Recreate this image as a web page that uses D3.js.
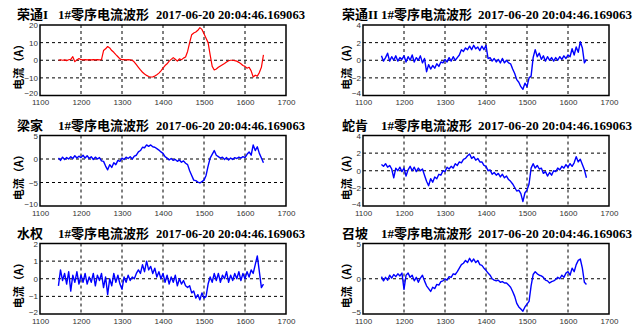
<!DOCTYPE html>
<html>
<head>
<meta charset="utf-8">
<script src="https://cdn.jsdelivr.net/npm/d3@7"></script>
<style>
  body { margin: 0; background: #fff; }
  .tick text { font-family: "Liberation Sans", Arial, sans-serif; font-size: 8px; fill: #333; }
</style>
</head>
<body>
<div id="chart"></div>
<script>
// sample positions shared by all six waveforms
const samples = [
    1145, 1150, 1155, 1160, 1165, 1170, 1175, 1180, 1185, 1190,
    1195, 1200, 1205, 1210, 1215, 1220, 1225, 1230, 1235, 1240,
    1245, 1250, 1255, 1260, 1265, 1270, 1275, 1280, 1285, 1290,
    1295, 1300, 1305, 1310, 1315, 1320, 1325, 1330, 1335, 1340,
    1345, 1350, 1355, 1360, 1365, 1370, 1375, 1380, 1385, 1390,
    1395, 1400, 1405, 1410, 1415, 1420, 1425, 1430, 1435, 1440,
    1445, 1450, 1455, 1460, 1465, 1470, 1475, 1480, 1485, 1490,
    1495, 1500, 1505, 1510, 1515, 1520, 1525, 1530, 1535, 1540,
    1545, 1550, 1555, 1560, 1565, 1570, 1575, 1580, 1585, 1590,
    1595, 1600, 1605, 1610, 1615, 1620, 1625, 1630, 1635, 1640,
    1645
];

const rongtong1 = [
    0, 0.3, 0, 0.2, -0.2, 0.3, 0.5, 2.0, -0.8, 0.2,
    1.0, 0.3, 0.2, 0.3, 0.2, 0.3, 0.2, 0.3, 0.2, 0.3,
    0.2, 0.3, 5.5, 6.5, 7.8, 7.0, 5.5, 4.5, 3.2, 2.0,
    0.8, 0.3, 0.3, 0.2, 0.3, 0.2, 0.0, -1.0, -2.5, -4.0,
    -5.5, -6.8, -7.8, -8.6, -9.2, -9.5, -9.4, -9.0, -8.2, -7.3,
    -6.0, -4.5, -3.0, -2.0, -0.5, 0.5, 1.5, 0.6, -0.5, 0.8,
    0.3, 1.2, 1.8, 5.0, 10.0, 14.5, 15.5, 16.0, 17.0, 18.5,
    17.5, 15.0, 12.5, 10.0, 3.0, -3.5, -5.5, -5.0, -4.0, -3.2,
    -2.5, -1.8, -1.0, -0.3, 0.0, 0.0, -0.2, -0.5, -1.2, -2.0,
    -3.0, -3.5, -4.5, -4.0, -6.0, -9.5, -8.5, -9.0, -7.0, -4.0,
    3.0
];

const rongtong2 = [
    0.5, -0.1, 0.3, 0.8, -0.1, 0.4, 0.0, 0.5, -0.1, 0.3,
    0.1, 0.5, -0.2, 0.4, 0.0, 0.6, -0.2, 0.3, 0.0, 0.5,
    -0.3, 0.2, -1.3, -0.5, -1.0, -0.6, -0.9, -0.4, -0.7, -0.2,
    -0.3, 0.1, -0.2, 0.3, -0.1, 0.4, 0.0, 0.3, 0.6, 1.2,
    1.0, 1.4, 1.2, 1.6, 1.2, 1.7, 1.3, 1.5, 1.1, 1.6,
    1.2, 1.7, 0.2, 0.3, -0.1, 0.2, -0.2, 0.1, -0.3, 0.2,
    -0.3, 0.0, -0.3, -0.4, -1.0, -1.5, -2.2, -2.5, -3.0, -3.3,
    -2.6, -3.0, -2.0, -1.8, 0.3, 1.2, 0.4, 0.8, 0.1, 0.5,
    -0.1, 0.4, 0.0, 0.3, -0.1, 0.3, 0.0, 0.4, 0.1, 0.5,
    0.2, 0.6, 0.4, 1.3, 0.6, 1.5, 0.9, 2.1, 1.4, -0.3,
    0.1
];

const liangjia = [
    0.2, -0.3, 0.4, -0.1, 0.3, 0.0, 0.5, 0.1, 0.7, 0.2,
    0.6, 0.3, 0.8, 0.2, 0.7, 0.1, 0.5, -0.1, 0.4, 0.0,
    0.3, -0.4, -0.5, -1.5, -2.3, -1.2, -1.8, -0.8, -1.2, -0.3,
    -0.5, 0.2, -0.1, 0.4, 0.1, 0.5, 0.0, 0.6, 0.8, 1.5,
    1.8, 2.5, 2.4, 3.0, 2.7, 3.0, 2.6, 2.5, 2.2, 1.9,
    1.5, 1.2, 0.5, 0.2, -0.2, 0.1, -0.3, -0.1, -0.5, -0.2,
    -0.7, -0.4, -0.9, -1.2, -2.5, -3.5, -4.5, -4.6, -4.9, -5.1,
    -4.8, -4.5, -3.5, -1.5, 0.2, 1.0, 1.8, 0.8, 0.5, 0.2,
    0.4, -0.1, 0.3, -0.2, 0.2, -0.1, 0.3, 0.1, 0.4, 0.2,
    0.5, 0.3, 1.0, 1.5, 0.8, 3.0, 1.8, 2.6, 1.2, 0.2,
    -0.8
];

const shekeng = [
    0.7, 0.5, 0.8, 0.4, 0.6, 0.2, -0.8, 0.3, 0.0, 0.4,
    -0.1, 0.3, -0.6, 0.1, 0.5, 0.0, 0.4, -0.1, 0.3, 0.0,
    0.2, -0.5, -1.2, -1.7, -0.9, -1.3, -0.7, -0.9, -0.4, -0.5,
    0.0, -0.1, 0.4, 0.2, 0.5, 0.3, 0.8, 0.6, 1.0, 0.9,
    1.3, 1.4, 1.7, 1.9, 1.4, 1.6, 1.2, 1.4, 1.0, 1.0,
    0.6, 0.5, 0.0, 0.1, -0.4, -0.2, -0.5, -0.3, -0.7, -0.4,
    -0.8, -0.6, -1.0, -1.2, -1.5, -1.9, -2.3, -2.2, -2.6, -3.5,
    -2.5, -2.2, -1.5, 0.3, 0.8, 0.3, 0.6, 0.2, 0.3, -0.3,
    -0.1, -0.6, -0.2, -0.5, 0.0, -0.1, 0.3, 0.1, 0.5, 0.3,
    0.7, 0.4, 0.8, 0.5, 0.9, 1.6, 1.0, 1.3, 0.7, 0.1,
    -0.8
];

const shuiquan = [
    -0.4, 0.5, -0.1, 0.3, -0.3, 0.4, -0.7, 0.2, -0.2, 0.4,
    -0.3, 0.2, -0.2, 0.3, -0.3, 0.1, -0.2, 0.3, -0.4, 0.2,
    -0.1, 0.3, -0.5, 0.1, -0.9, 0.0, -0.4, 0.3, -0.2, 0.2,
    -0.3, -0.6, 0.1, -0.2, 0.2, -0.1, 0.1, 0.0, 0.3, 0.5,
    0.3, 0.8, 0.4, 1.0, 0.5, 0.7, 0.3, 0.6, 0.1, 0.4,
    0.0, 0.3, -0.2, 0.2, -0.3, 0.1, -0.2, 0.2, -0.4, 0.0,
    -0.3, -0.1, -0.4, -0.5, -0.4, -0.8, -0.7, -1.1, -0.9, -1.2,
    -0.8, -1.1, -1.0, -0.3, 0.1, -0.2, 0.3, -0.1, 0.3, -0.2,
    0.2, 0.0, 0.4, -0.2, 0.2, -0.1, 0.3, 0.0, 0.4, -0.1,
    0.3, 0.0, 0.4, 0.1, 0.5, 0.3, 0.8, 1.3, 0.4, -0.5,
    -0.3
];

const zhaopo = [
    0.3, -0.3, 0.2, -0.2, 0.5, 0.1, 0.6, 0.3, 0.7, 0.4,
    0.8, -1.5, 0.5, 0.8, 0.2, 0.5, -0.3, 0.2, -0.5, 0.1,
    0.5, -0.3, -1.0, -1.4, -1.8, -1.2, -1.4, -0.8, -0.9, -0.4,
    -0.3, 0.0, -0.2, 0.3, 0.2, 0.7, 0.6, 1.0, 1.5, 2.0,
    2.2, 2.6, 2.3, 2.9, 2.4, 2.8, 2.3, 2.6, 2.0, 1.9,
    1.5, 1.2, 0.8, 0.5, 0.0, -0.2, -0.3, -0.2, -0.5, -0.4,
    -0.6, -0.6, -0.9, -1.2, -1.8, -2.5, -3.5, -4.0, -4.3, -4.6,
    -4.0, -3.6, -3.2, -1.0, 0.6, 1.0, 0.7, 0.5, 0.4, 0.2,
    -0.2, -0.3, -0.6, -0.4, -0.3, -0.1, 0.2, 0.0, 0.5, 0.2,
    0.8, 1.0, 0.5, 1.5, 1.0, 2.0, 2.6, 2.8, 1.5, -0.5,
    -0.8
];

const stationNames = ["荣通I", "荣通II", "梁家", "蛇肯", "水权", "召坡"];
const stationSeries = [rongtong1, rongtong2, liangjia, shekeng, shuiquan, zhaopo];
const lineColors = ["#ff0000", "#0000ff", "#0000ff", "#0000ff", "#0000ff", "#0000ff"];
const xTicks = [1100, 1200, 1300, 1400, 1500, 1600, 1700];
const yTickSets = [
    [-20, -10, 0, 10, 20],
    [-4, -2, 0, 2, 4],
    [-10, -5, 0, 5],
    [-4, -2, 0, 2, 4],
    [-2, -1, 0, 1, 2],
    [-5, 0, 5]
];
const waveName = "1#零序电流波形";
const timeStamp = "2017-06-20 20:04:46.169063";

const width = 640, height = 325;
const colLeft = [40, 363];
const plotW = 246;
const rowTop = [25, 135.5, 243.5];
const plotH = 70.5;

const svg = d3.select("#chart").append("svg")
    .attr("width", width)
    .attr("height", height);

stationSeries.forEach((series, i) => {
    const col = i % 2, row = Math.floor(i / 2);
    const left = colLeft[col], top = rowTop[row];
    const yTicks = yTickSets[i];

    const x = d3.scaleLinear().domain([1100, 1700]).range([0, plotW]);
    const y = d3.scaleLinear().domain(d3.extent(yTicks)).range([plotH, 0]);

    const g = svg.append("g").attr("transform", `translate(${left},${top})`);

    // dashed grid
    g.append("g").selectAll("line")
        .data(xTicks.slice(1, -1))
        .join("line")
        .attr("x1", d => x(d)).attr("x2", d => x(d))
        .attr("y1", 0).attr("y2", plotH)
        .attr("stroke", "#000").attr("stroke-width", 1)
        .attr("stroke-dasharray", "3,3");
    g.append("g").selectAll("line")
        .data(yTicks.slice(1, -1))
        .join("line")
        .attr("y1", d => y(d)).attr("y2", d => y(d))
        .attr("x1", 0).attr("x2", plotW)
        .attr("stroke", "#000").attr("stroke-width", 1)
        .attr("stroke-dasharray", "3,3");

    // waveform
    const line = d3.line()
        .x((d, k) => x(samples[k]))
        .y(d => y(d));
    g.append("path")
        .datum(series)
        .attr("fill", "none")
        .attr("stroke", lineColors[i])
        .attr("stroke-width", i === 0 ? 1.2 : 1.4)
        .attr("stroke-linejoin", "round")
        .attr("d", line);

    // axes (labels only, box drawn separately)
    const xAxis = d3.axisBottom(x).tickValues(xTicks).tickSize(0).tickPadding(4).tickFormat(d3.format("d"));
    const yAxis = d3.axisLeft(y).tickValues(yTicks).tickSize(0).tickPadding(2).tickFormat(d3.format("d"));
    g.append("g").attr("transform", `translate(0,${plotH})`).call(xAxis)
        .call(a => a.select(".domain").remove());
    g.append("g").call(yAxis)
        .call(a => a.select(".domain").remove())
        // lowest label sits just above the x labels
        .call(a => a.selectAll(".tick text").filter(d => d === yTicks[0]).attr("dy", "0.05em"));

    g.append("rect")
        .attr("width", plotW).attr("height", plotH)
        .attr("fill", "none")
        .attr("stroke", "#000").attr("stroke-width", 1.5);

    // y label
    g.append("text")
        .attr("transform", `translate(${col === 0 ? -22 : -17},${plotH / 2 + 4}) rotate(-90)`)
        .attr("text-anchor", "middle")
        .attr("dominant-baseline", "central")
        .attr("font-family", "'Noto Sans CJK SC', sans-serif")
        .attr("font-weight", "bold")
        .attr("font-size", 11)
        .text("电流（A）");

    // title pieces
    const titleY = top - 6;
    const titleFont = "'Liberation Serif', 'Noto Sans CJK SC', serif";
    const nameX = col === 0 ? 17 : 342;
    const waveX = col === 0 ? 58 : 381;
    const timeX = col === 0 ? 156 : 478;
    const timeW = col === 0 ? 149 : 154;
    [[nameX, stationNames[i], null], [waveX, waveName, null], [timeX, timeStamp, timeW]].forEach(([tx, txt, tw]) => {
        const t = svg.append("text")
            .attr("x", tx).attr("y", titleY)
            .attr("font-family", titleFont)
            .attr("font-weight", "bold")
            .attr("font-size", 13)
            .attr("fill", "#000")
            .text(txt);
        if (tw) t.attr("textLength", tw).attr("lengthAdjust", "spacingAndGlyphs");
    });
});
</script>
</body>
</html>
